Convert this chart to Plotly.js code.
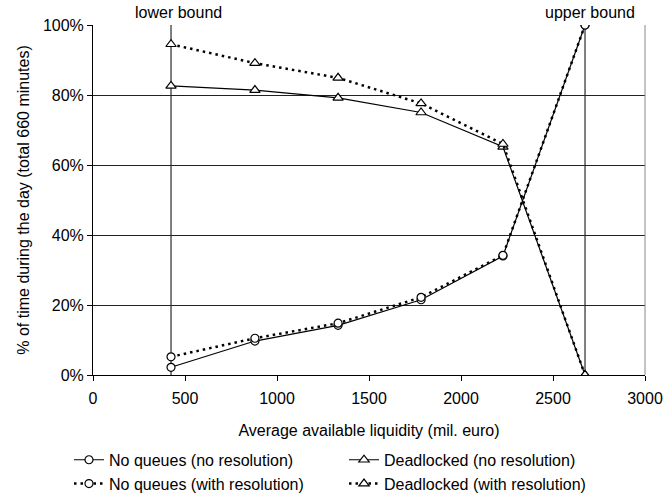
<!DOCTYPE html>
<html>
<head>
<meta charset="utf-8">
<script src="https://cdn.plot.ly/plotly-3.0.1.min.js"></script>
<style>html,body{margin:0;padding:0;background:#fff;}#chart{width:666px;height:497px;}</style>
</head>
<body>
<div id="chart"></div>
<script>
const liquidity = [424, 880, 1332, 1783, 2228, 2674];
const noQueuesNoRes = [0.022, 0.097, 0.142, 0.215, 0.340, 1.00];
const noQueuesWithRes = [0.052, 0.105, 0.148, 0.222, 0.342, 1.00];
const deadlockedNoRes = [0.826, 0.814, 0.792, 0.750, 0.652, 0.00];
const deadlockedWithRes = [0.945, 0.891, 0.849, 0.776, 0.660, 0.00];
const lowerBound = 424;
const upperBound = 2674;
const xTicks = [0, 500, 1000, 1500, 2000, 2500, 3000];
const yTicks = [0, 0.2, 0.4, 0.6, 0.8, 1.0];
const yTickLabels = ['0%', '20%', '40%', '60%', '80%', '100%'];

const font = {family: 'Liberation Sans, Arial, sans-serif', size: 16, color: '#000'};
const circ = {symbol: 'circle', size: 8, color: '#fff', line: {width: 1.2, color: '#000'}};
const tri = {symbol: 'triangle-up', size: 9, color: '#fff', line: {width: 1.2, color: '#000'}};
const dotted = '2.5px,4px';

const traces = [
  {x: liquidity, y: noQueuesNoRes, name: 'No queues (no resolution)', mode: 'lines+markers',
   line: {color: '#000', width: 1.2}, marker: Object.assign({}, circ)},
  {x: liquidity, y: deadlockedNoRes, name: 'Deadlocked (no resolution)', mode: 'lines+markers',
   line: {color: '#000', width: 1.2}, marker: Object.assign({}, tri)},
  {x: liquidity, y: noQueuesWithRes, name: 'No queues (with resolution)', mode: 'lines+markers',
   line: {color: '#000', width: 2.5, dash: dotted}, marker: Object.assign({}, circ)},
  {x: liquidity, y: deadlockedWithRes, name: 'Deadlocked (with resolution)', mode: 'lines+markers',
   line: {color: '#000', width: 2.5, dash: dotted}, marker: Object.assign({}, tri)}
];

const layout = {
  width: 666, height: 497,
  margin: {l: 93, r: 21, t: 25, b: 122},
  paper_bgcolor: '#fff', plot_bgcolor: '#fff',
  font: font,
  showlegend: true,
  xaxis: {
    range: [0, 3000], tickvals: xTicks,
    ticks: 'outside', ticklen: 5, tickcolor: '#000', showline: true, linecolor: '#000', linewidth: 1,
    showgrid: false, zeroline: false, tickfont: font, ticklabelstandoff: 4,
    title: {text: 'Average available liquidity (mil. euro)', font: font, standoff: 18}
  },
  yaxis: {
    range: [0, 1], tickvals: yTicks, ticktext: yTickLabels,
    ticks: 'outside', ticklen: 5, tickcolor: '#000', showline: true, linecolor: '#000', linewidth: 1,
    showgrid: true, gridcolor: '#222', gridwidth: 1, zeroline: false, tickfont: font,
    title: {text: '% of time during the day (total 660 minutes)', font: font, standoff: 9}
  },
  shapes: [
    {type: 'line', xref: 'x', yref: 'y', x0: lowerBound, x1: lowerBound, y0: 0, y1: 1, line: {color: '#555', width: 1.5}, layer: 'below'},
    {type: 'line', xref: 'x', yref: 'y', x0: upperBound, x1: upperBound, y0: 0, y1: 1, line: {color: '#555', width: 1.5}, layer: 'below'},
    {type: 'line', xref: 'paper', yref: 'paper', x0: 1, x1: 1, y0: 0, y1: 1, line: {color: '#888', width: 1}}
  ],
  annotations: [
    {x: lowerBound, y: 1, xref: 'x', yref: 'paper', text: 'lower bound', showarrow: false, yanchor: 'bottom', yshift: 2, xshift: 7, font: font},
    {x: upperBound, y: 1, xref: 'x', yref: 'paper', text: 'upper bound', showarrow: false, yanchor: 'bottom', yshift: 2, xshift: 5, font: font}
  ],
  legend: {
    orientation: 'h', xref: 'container', x: 0.1036, xanchor: 'left', yref: 'container', y: 0.109, yanchor: 'top',
    entrywidth: 230, entrywidthmode: 'pixels', font: font, tracegroupgap: 0,
    itemwidth: 30, bgcolor: 'rgba(0,0,0,0)'
  }
};

Plotly.newPlot('chart', traces, layout, {displayModeBar: false, staticPlot: true});
</script>
</body>
</html>
